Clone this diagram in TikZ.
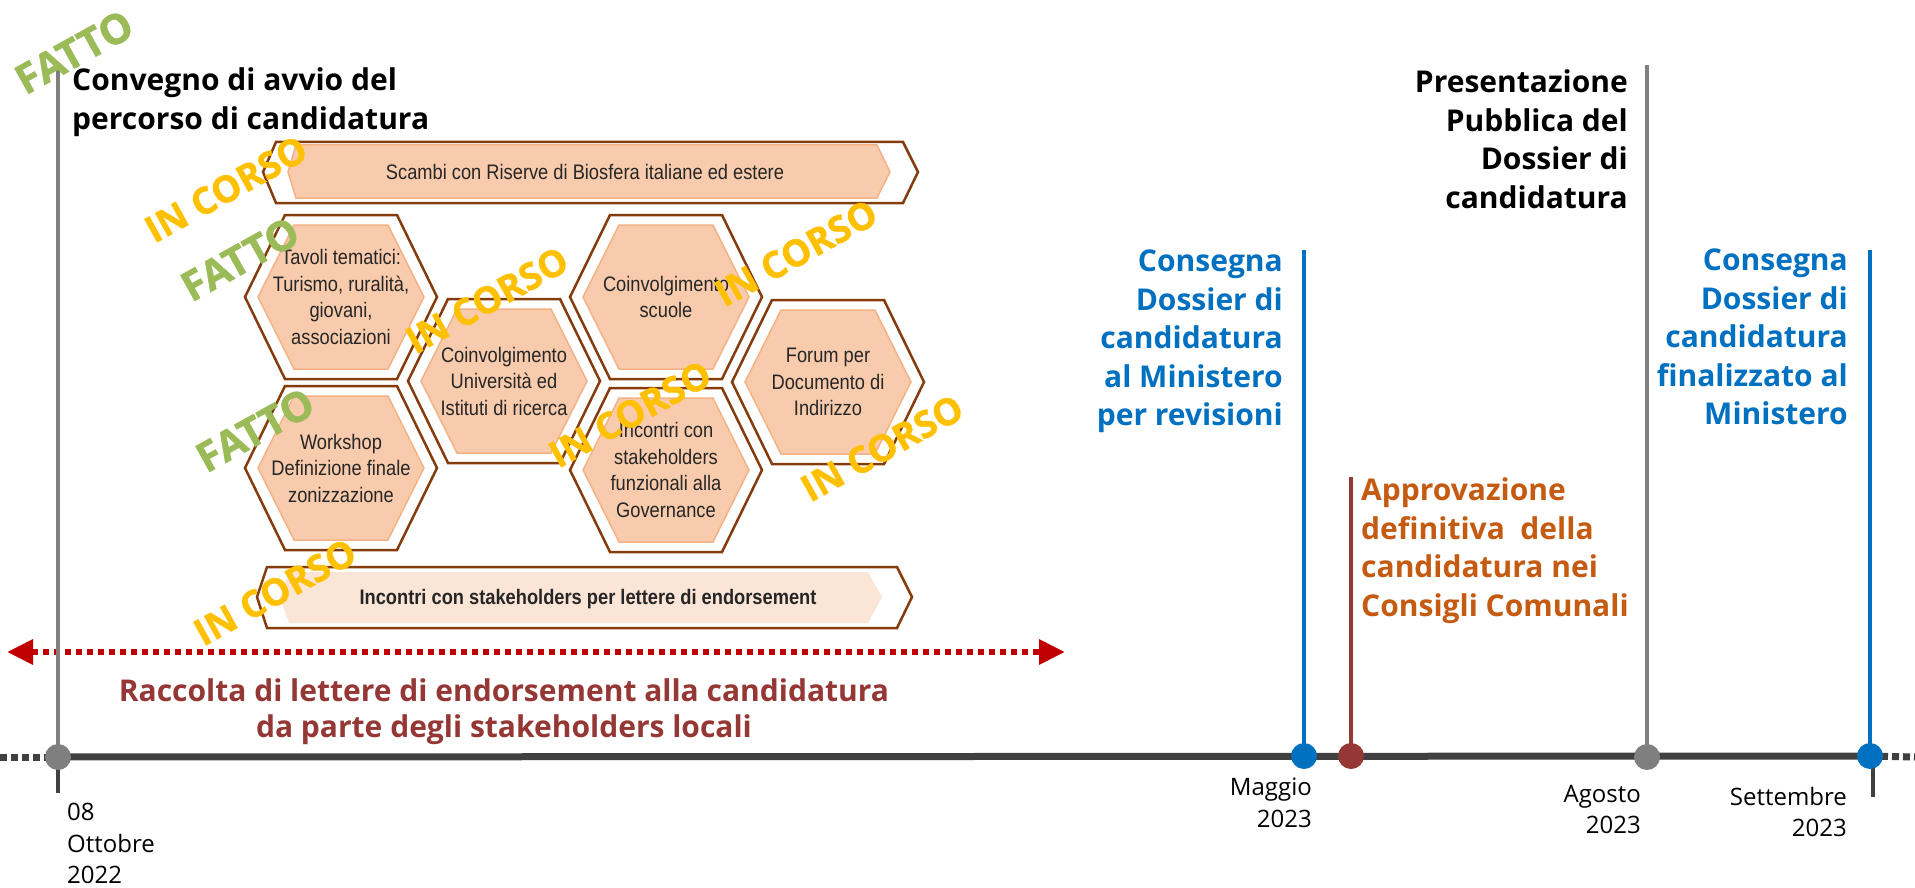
\documentclass[tikz,border=0pt]{standalone}
\usepackage{fontspec}
\setmainfont{Open Sans}
\newfontfamily\osans{Open Sans}
\newfontfamily\stampfont[BoldFeatures={FakeBold=1.2}]{Open Sans}
\newfontfamily\hexfont[FakeStretch=0.87]{Liberation Sans}
\usetikzlibrary{arrows.meta}
\definecolor{brownline}{HTML}{843C0C}
\definecolor{peach}{HTML}{F8CBAD}
\definecolor{peachedge}{HTML}{F4B183}
\definecolor{lightpeach}{HTML}{FBE5D6}
\definecolor{tlblue}{HTML}{0070C0}
\definecolor{tlorange}{HTML}{C55A11}
\definecolor{tldred}{HTML}{953735}
\definecolor{tlred}{HTML}{C00000}
\definecolor{tlgray}{HTML}{7F7F7F}
\definecolor{axisgray}{HTML}{404040}
\definecolor{stampgreen}{HTML}{9BBB59}
\definecolor{stampgold}{HTML}{FFC000}
\tikzset{
 outerhex/.style={draw=brownline, line width=2.5pt, fill=white, line join=miter},
 innerhex/.style={draw=peachedge, line width=1.5pt, fill=peach},
 hextext/.style={font=\hexfont\fontsize{21}{26.5}\selectfont, align=center, inner sep=0pt, text=black!85},
 bigbold/.style={font=\osans\bfseries\fontsize{30}{38.5}\selectfont, inner sep=0pt},
 datetext/.style={font=\osans\fontsize{24}{31.5}\selectfont, inner sep=0pt},
 stamp/.style={font=\stampfont\bfseries\fontsize{37}{40}\selectfont, rotate=29, inner sep=0pt},
 bigstamp/.style={stamp, font=\stampfont\bfseries\fontsize{41}{44}\selectfont},
 vline/.style={line width=4pt},
 marker/.style={circle, inner sep=0pt, minimum size=26pt},
 axisline/.style={axisgray, line width=7pt},
 axisdots/.style={axisgray, line width=7pt, dash pattern=on 7pt off 4pt},
}
\newcommand\mkhex[4]{%
  \path[outerhex] ({#1-96},#2) -- ({#1-56},{#2-82}) -- ({#1+56},{#2-82}) -- ({#1+96},#2) -- ({#1+56},{#2+82}) -- ({#1-56},{#2+82}) -- cycle;
  \path[innerhex] ({#1-83},#2) -- ({#1-47},{#2-72}) -- ({#1+47},{#2-72}) -- ({#1+83},#2) -- ({#1+47},{#2+72}) -- ({#1-47},{#2+72}) -- cycle;
  \node[hextext] (#3) at (#1,#2) {#4};
}
\begin{document}
\begin{tikzpicture}[x=1pt,y=-1pt]
\useasboundingbox (0,0) rectangle (1915,888);
\fill[white] (0,0) rectangle (1915,888);

% banners
\path[outerhex] (263,172) -- (276,142) -- (903,142) -- (918,172) -- (903,203) -- (276,203) -- cycle;
\path[innerhex] (288,172) -- (296,145) -- (877,145) -- (890,172) -- (877,198) -- (296,198) -- cycle;
\node[hextext] (scambi) at (585,172) {Scambi con Riserve di Biosfera italiane ed estere};

\path[outerhex] (257,597) -- (267,567) -- (897,567) -- (912,597) -- (897,628) -- (267,628) -- cycle;
\path[fill=lightpeach] (280,597) -- (289,572) -- (868,572) -- (882,597) -- (868,623) -- (289,623) -- cycle;
\node[hextext, font=\hexfont\bfseries\fontsize{21}{24}\selectfont] (incontriend) at (588,599) {Incontri con stakeholders per lettere di endorsement};

% hexagons
\mkhex{341}{297}{tavoli}{Tavoli tematici:\\Turismo, ruralità,\\giovani,\\associazioni}
\mkhex{504}{381}{univ}{Coinvolgimento\\Università ed\\Istituti di ricerca}
\mkhex{666}{297}{scuole}{Coinvolgimento\\scuole}
\mkhex{828}{382}{forum}{Forum per\\Documento di\\Indirizzo}
\mkhex{341}{468}{workshop}{Workshop\\Definizione finale\\zonizzazione}
\mkhex{666}{470}{governance}{Incontri con\\stakeholders\\funzionali alla\\Governance}

% timeline coordinates
\coordinate (m0c) at (58,757);
\coordinate (m1c) at (1304,756);
\coordinate (m2c) at (1351,756);
\coordinate (m3c) at (1647,757);
\coordinate (m4c) at (1870,756);
\coordinate (convtop) at (58,67);
\coordinate (cons1top) at (1304,250);
\coordinate (approvtop) at (1351,477);
\coordinate (prestop) at (1647,65);
\coordinate (cons2top) at (1870,250);
\coordinate (axstart) at (0,757);
\coordinate (axend) at (1915,757);
\coordinate (tick0) at (58,793);
\coordinate (tick4a) at (1873,757);
\coordinate (tick4) at (1873,797);

% red dotted double arrow
\coordinate (raccL) at (7,652);
\coordinate (raccR) at (1065,652);
\draw[tlred, line width=6pt, dash pattern=on 6pt off 5pt, {Triangle[length=26pt,width=24pt]}-{Triangle[length=26pt,width=24pt]}] (raccL) -- (raccR);

% vertical lines
\draw[vline, tlgray] (m0c) -- (convtop);
\draw[vline, tlblue] (m1c) -- (cons1top);
\draw[vline, tldred] (m2c) -- (approvtop);
\draw[vline, tlgray] (m3c) -- (prestop);
\draw[vline, tlblue] (m4c) -- (cons2top);

% axis
\draw[axisdots] (axstart) -- (m0c);
\draw[axisline] (m0c) -- (m4c);
\draw[axisdots] (m4c) -- (axend);
\draw[axisgray, line width=4pt] (m0c) -- (tick0);
\draw[axisgray, line width=4pt] (tick4a) -- (tick4);

% markers
\node[marker, fill=tlgray] (m0) at (m0c) {};
\node[marker, fill=tlblue] (m1) at (m1c) {};
\node[marker, fill=tldred] (m2) at (m2c) {};
\node[marker, fill=tlgray] (m3) at (m3c) {};
\node[marker, fill=tlblue] (m4) at (m4c) {};

% texts
\node[bigbold, anchor=north west, align=left] (convegno) at (72,68) {Convegno di avvio del\\percorso di candidatura};
\node[bigbold, anchor=north east, align=right] (present) at (1628,70) {Presentazione\\Pubblica del\\Dossier di\\candidatura};
\node[bigbold, text=tlblue, anchor=north east, align=right] (cons1) at (1283,250) {Consegna\\Dossier di\\candidatura\\al Ministero\\per revisioni};
\node[bigbold, text=tlblue, anchor=north east, align=right] (cons2) at (1848,249) {Consegna\\Dossier di\\candidatura\\finalizzato al\\Ministero};
\node[bigbold, text=tlorange, anchor=north west, align=left] (approv) at (1361,478) {Approvazione\\definitiva\ \ della\\candidatura nei\\Consigli Comunali};
\node[bigbold, font=\osans\bfseries\fontsize{30}{36}\selectfont, text=tldred, anchor=north, align=center] (raccolta) at (504,679) {Raccolta di lettere di endorsement alla candidatura\\da parte degli stakeholders locali};

% dates
\node[datetext, anchor=north west, align=left] (d0) at (67,803) {08\\Ottobre\\2022};
\node[datetext, anchor=north east, align=right] (d1) at (1312,778) {Maggio\\2023};
\node[datetext, anchor=north east, align=right] (d3) at (1641,785) {Agosto\\2023};
\node[datetext, anchor=north east, align=right] (d4) at (1847,787) {Settembre\\2023};

% stamps
\node[bigstamp, text=stampgreen] (f1) at (74,52) {FATTO};
\node[stamp, text=stampgold] (ic1) at (226,189) {IN CORSO};
\node[bigstamp, text=stampgreen] (f2) at (240,259) {FATTO};
\node[stamp, text=stampgold] (ic2) at (487,300) {IN CORSO};
\node[stamp, text=stampgold] (ic3) at (796,253) {IN CORSO};
\node[bigstamp, text=stampgreen] (f3) at (255,430) {FATTO};
\node[stamp, text=stampgold] (ic4) at (630,414) {IN CORSO};
\node[stamp, text=stampgold] (ic5) at (882,448) {IN CORSO};
\node[stamp, text=stampgold] (ic6) at (275,592) {IN CORSO};
\end{tikzpicture}
\end{document}
